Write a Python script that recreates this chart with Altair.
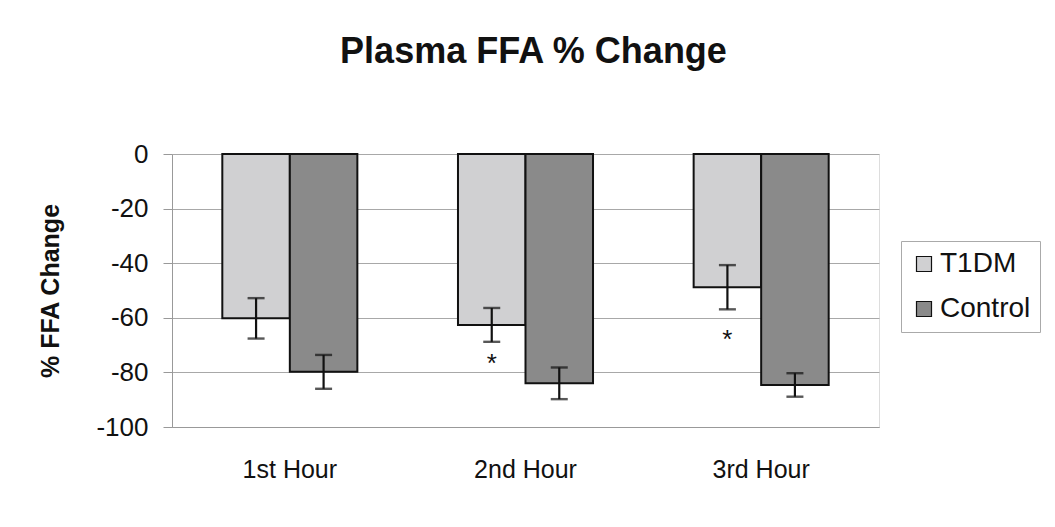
import altair as alt
import pandas as pd

hours = ["1st Hour", "2nd Hour", "3rd Hour"]
groups = ["T1DM", "Control"]
t1dm_mean = [-60.2, -62.6, -48.8]
t1dm_err = [7.4, 6.2, 8.1]
control_mean = [-79.8, -84.0, -84.6]
control_err = [6.2, 5.8, 4.3]
star_labels = ["", "*", "*"]
star_y = [None, -74.5, -65.5]
colors = ["#d0d0d2", "#8a8a8a"]

rows = []
for i, h in enumerate(hours):
    rows.append({"hour": h, "group": "T1DM", "mean": t1dm_mean[i], "err": t1dm_err[i]})
    rows.append({"hour": h, "group": "Control", "mean": control_mean[i], "err": control_err[i]})
df = pd.DataFrame(rows)
df["lo"] = df["mean"] - df["err"]
df["hi"] = df["mean"] + df["err"]

stars = pd.DataFrame({"hour": hours, "group": ["T1DM"] * 3, "label": star_labels, "y": star_y}).dropna()

FONT = "Liberation Sans"

x_enc = alt.X("hour:N", sort=hours,
              scale=alt.Scale(paddingInner=0.427, paddingOuter=0.2135),
              axis=alt.Axis(title=None, labelAngle=0, labelFontSize=25, labelPadding=30,
                            ticks=False, domainColor="#999999", labelColor="#111111",
                            labelFont=FONT))
xo_enc = alt.XOffset("group:N", sort=groups, scale=alt.Scale(domain=groups, paddingInner=0, paddingOuter=0))
y_scale = alt.Scale(domain=[-100, 0], nice=False)

base = alt.Chart(df)

bars = base.mark_bar(stroke="#111111", strokeWidth=2).encode(
    x=x_enc,
    xOffset=xo_enc,
    y=alt.Y("mean:Q", scale=y_scale,
            axis=alt.Axis(title="% FFA Change", values=[0, -20, -40, -60, -80, -100],
                          labelExpr="'' + datum.value",
                          labelFontSize=26, labelPadding=15, tickSize=9,
                          tickColor="#999999", domainColor="#999999",
                          gridColor="#a8a8a8", labelColor="#111111",
                          titleFontSize=25, titleFontWeight="bold", titleColor="#111111",
                          titleX=-122, titleY=136.5, titleAlign="center",
                          titleBaseline="middle", titleAngle=270,
                          labelFont=FONT, titleFont=FONT)),
    y2=alt.value(0),
    color=alt.Color("group:N", sort=groups,
                    scale=alt.Scale(domain=groups, range=colors),
                    legend=alt.Legend(title=None, orient="none", legendX=729, legendY=87,
                                      symbolType="square", symbolSize=225,
                                      symbolStrokeColor="#111111", symbolStrokeWidth=1.2,
                                      labelFontSize=28, labelFont=FONT, labelColor="#111111",
                                      labelOffset=2, rowPadding=17, padding=9,
                                      strokeColor="#aaaaaa", symbolOpacity=1,
                                      labelLimit=200)),
)

err = base.mark_rule(color="#111111", strokeWidth=2.2).encode(
    x=alt.X("hour:N", sort=hours),
    xOffset=alt.XOffset("group:N", sort=groups),
    y=alt.Y("lo:Q"),
    y2="hi:Q",
)
cap_lo = base.mark_tick(color="#111111", thickness=2.4, size=17).encode(
    x=alt.X("hour:N", sort=hours),
    xOffset=alt.XOffset("group:N", sort=groups),
    y=alt.Y("lo:Q"),
)
cap_hi = base.mark_tick(color="#111111", thickness=2.4, size=17).encode(
    x=alt.X("hour:N", sort=hours),
    xOffset=alt.XOffset("group:N", sort=groups),
    y=alt.Y("hi:Q"),
)
star = alt.Chart(stars).mark_text(fontSize=26, font=FONT, color="#111111",
                                  baseline="alphabetic", dy=15).encode(
    x=alt.X("hour:N", sort=hours),
    xOffset=alt.XOffset("group:N", sort=groups),
    y=alt.Y("y:Q"),
    text="label:N",
)

chart = alt.layer(bars, err, cap_lo, cap_hi, star).properties(
    width=707, height=273,
    autosize=alt.AutoSizeParams(type="none"),
    padding={"left": 164, "top": 146, "right": 168, "bottom": 92},
    title=alt.TitleParams("Plasma FFA % Change", fontSize=36, font=FONT, fontWeight="bold",
                          color="#111111", frame="group", anchor="middle",
                          baseline="alphabetic", offset=42, dx=8),
).configure_view(stroke="#b5b5b5", strokeDash=[5, 3], strokeWidth=1
).configure(background="white")

chart.save("out.html", embed_options={"renderer": "svg", "actions": False})
